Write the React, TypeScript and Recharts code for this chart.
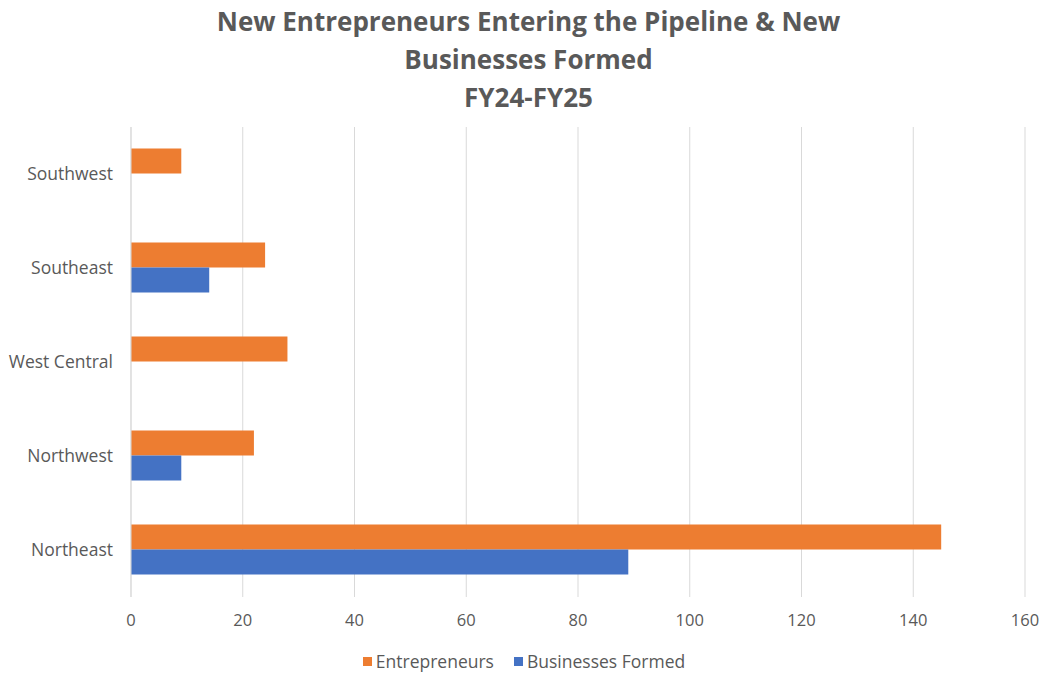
import React from "react";
import { BarChart, Bar, XAxis, YAxis, CartesianGrid, Legend } from "recharts";

const regions = ["Southwest", "Southeast", "West Central", "Northwest", "Northeast"];
const entrepreneurs = [9, 24, 28, 22, 145];
const businessesFormed = [0, 14, 0, 9, 89];
const xTicks = [0, 20, 40, 60, 80, 100, 120, 140, 160];
const titleLines = [
  "New Entrepreneurs Entering the Pipeline & New",
  "Businesses Formed",
  "FY24-FY25",
];
const seriesNames = ["Entrepreneurs", "Businesses Formed"];
const seriesColors = ["#ED7D31", "#4472C4"];

const data = regions.map((r, i) => ({
  region: r,
  [seriesNames[0]]: entrepreneurs[i],
  [seriesNames[1]]: businessesFormed[i],
}));

const FONT = "'Open Sans', 'Noto Sans', sans-serif";
const TEXT = "#595959";

const LegendContent = () => (
  <div
    style={{
      display: "flex",
      justifyContent: "center",
      alignItems: "center",
      height: 24,
      fontFamily: FONT,
      fontSize: 17.5,
      color: TEXT,
      paddingLeft: 23,
    }}
  >
    {seriesNames.map((n, i) => (
      <div key={n} style={{ display: "flex", alignItems: "center", marginRight: i === 0 ? 20 : 0 }}>
        <span style={{ display: "inline-block", width: 9, height: 9, background: seriesColors[i], marginRight: 4 }} />
        <span>{n}</span>
      </div>
    ))}
  </div>
);

export default function App() {
  return (
    <div style={{ position: "absolute", left: 0, top: 0, width: 1043, height: 673, background: "#fff", fontFamily: FONT }}>
      <div
        style={{
          position: "absolute",
          left: 0,
          top: 2,
          width: 1057,
          textAlign: "center",
          color: TEXT,
          fontWeight: 700,
          fontSize: 26,
          lineHeight: "38px",
        }}
      >
        {titleLines.map((t) => (
          <div key={t}>{t}</div>
        ))}
      </div>
      <BarChart
        width={1043}
        height={673}
        data={data}
        layout="vertical"
        margin={{ top: 127, right: 18, left: 0, bottom: 0 }}
        barCategoryGap="23%"
        barGap={0}
      >
        <CartesianGrid horizontal={false} stroke="#d9d9d9" />
        <XAxis
          type="number"
          domain={[0, 160]}
          ticks={xTicks}
          axisLine={false}
          tickLine={false}
          tickSize={0}
          tickMargin={17}
          height={52}
          tick={{ fill: TEXT, fontSize: 16.5, fontFamily: FONT }}
        />
        <YAxis
          type="category"
          dataKey="region"
          width={131}
          axisLine={{ stroke: "#d9d9d9" }}
          tickLine={false}
          tickSize={0}
          tickMargin={18}
          tick={{ fill: TEXT, fontSize: 17.5, fontFamily: FONT }}
        />
        <Legend verticalAlign="bottom" align="center" content={LegendContent} wrapperStyle={{ height: 24 }} />
        <Bar dataKey={seriesNames[0]} fill={seriesColors[0]} isAnimationActive={false} />
        <Bar dataKey={seriesNames[1]} fill={seriesColors[1]} isAnimationActive={false} />
      </BarChart>
    </div>
  );
}
